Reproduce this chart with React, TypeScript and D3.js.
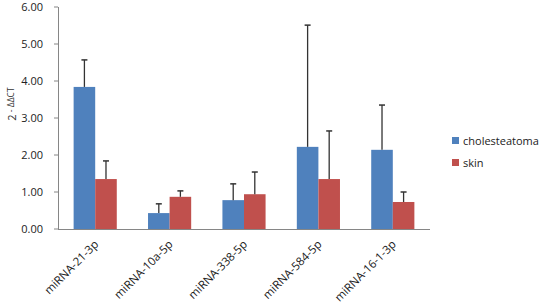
import React from "react";
import * as d3 from "d3";

const categories = ["miRNA-21-3p", "miRNA-10a-5p", "miRNA-338-5p", "miRNA-584-5p", "miRNA-16-1-3p"];
const seriesNames = ["cholesteatoma", "skin"];
const cholesteatoma = [3.84, 0.43, 0.78, 2.22, 2.14];
const cholesteatomaErr = [0.73, 0.25, 0.44, 3.29, 1.21];
const skin = [1.35, 0.87, 0.94, 1.35, 0.73];
const skinErr = [0.49, 0.16, 0.60, 1.30, 0.27];
const yTicks = [0, 1, 2, 3, 4, 5, 6];
const colors = ["#4F81BD", "#C0504D"];

export default function App() {
  const W = 543, H = 305;
  const left = 58, right = 430, top = 7, bottom = 229;
  const x = d3.scaleBand<string>().domain(categories).range([left, right]).paddingInner(0.42).paddingOuter(0.21);
  const y = d3.scaleLinear().domain([0, 6]).range([bottom, top]);
  const xs = d3.scaleBand<string>().domain(seriesNames).range([0, x.bandwidth()]);
  const series = [
    { name: seriesNames[0], vals: cholesteatoma, err: cholesteatomaErr },
    { name: seriesNames[1], vals: skin, err: skinErr },
  ];
  const font = "'Open Sans', 'Liberation Sans', sans-serif";
  return (
    <svg width={W} height={H} style={{ position: "absolute", left: 0, top: 0, background: "#fff" }} fontFamily={font}>
      <line x1={left + 0.5} x2={left + 0.5} y1={top} y2={bottom} stroke="#868686" />
      {yTicks.map((t) => (
        <g key={t}>
          <line x1={left - 4} x2={left} y1={y(t)} y2={y(t)} stroke="#868686" />
          <text x={43} y={y(t)} dy="0.35em" textAnchor="end" fontSize={11} fill="#222">
            {t.toFixed(2)}
          </text>
        </g>
      ))}
      <line x1={left} x2={right} y1={bottom + 0.5} y2={bottom + 0.5} stroke="#868686" />
      {series.map((s, si) =>
        categories.map((c, i) => {
          const bx = (x(c) as number) + (xs(s.name) as number);
          const bw = xs.bandwidth();
          const cx = bx + bw / 2;
          return (
            <g key={s.name + c}>
              <rect x={bx} y={y(s.vals[i])} width={bw} height={bottom - y(s.vals[i])} fill={colors[si]} />
              <line x1={cx} x2={cx} y1={y(s.vals[i])} y2={y(s.vals[i] + s.err[i])} stroke="#333" strokeWidth={1.3} />
              <line x1={cx - 3} x2={cx + 3} y1={y(s.vals[i] + s.err[i])} y2={y(s.vals[i] + s.err[i])} stroke="#333" strokeWidth={1.5} />
            </g>
          );
        })
      )}
      {categories.map((c) => {
        const cx = (x(c) as number) + x.bandwidth() / 2;
        return (
          <text key={c} transform={`translate(${cx + 4},${bottom + 16}) rotate(-45)`} textAnchor="end" fontSize={11.5} fill="#222">
            {c}
          </text>
        );
      })}
      <text transform={`translate(16,104) rotate(-90)`} textAnchor="middle" fontSize={11} fill="#333">
        2<tspan fontSize={8.5} dy={-2}> - ΔΔCT</tspan>
      </text>
      {series.map((s, si) => (
        <g key={s.name}>
          <rect x={452} y={137 + si * 22} width={7} height={7} fill={colors[si]} />
          <text x={463} y={141 + si * 22} dy="0.35em" fontSize={11} fill="#222">
            {s.name}
          </text>
        </g>
      ))}
    </svg>
  );
}
